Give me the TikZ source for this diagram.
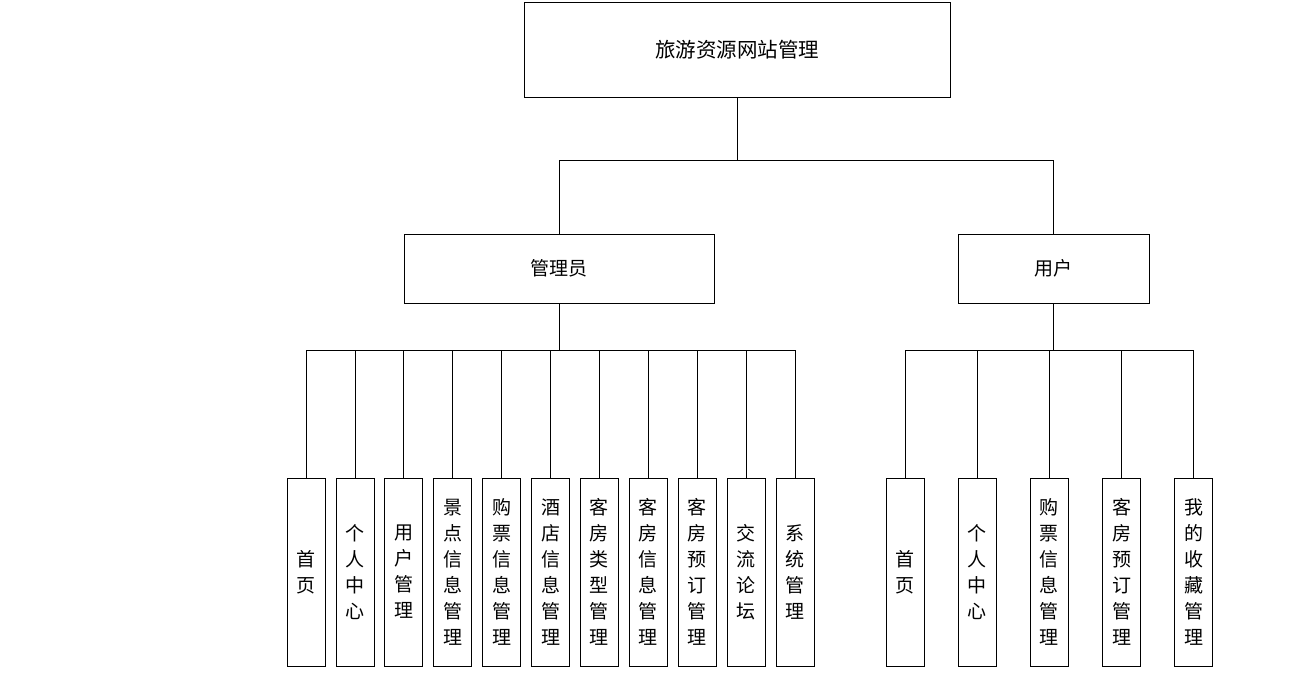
\documentclass[tikz,border=0pt]{standalone}
\usepackage{fontspec}
\setmainfont{Noto Sans CJK SC}
\usetikzlibrary{positioning}

\begin{document}
\begin{tikzpicture}[
    x=1pt, y=-1pt,
    box/.style={rectangle, draw, line width=0.8pt, inner sep=0pt,
                font=\fontsize{19}{26}\selectfont, align=center},
    leaf/.style={box, minimum width=38pt, minimum height=188pt},
    conn/.style={line width=0.8pt}
]
    \useasboundingbox (0,0) rectangle (1302,693);

    \node[box, minimum width=426pt, minimum height=95pt,
          font=\fontsize{20.5}{26}\selectfont] (root) at (737,49.5) {旅游资源网站管理};
    \node[box, minimum width=310pt, minimum height=69pt] (admin) at (559,268.5)  {管理员};
    \node[box, minimum width=191pt, minimum height=69pt] (user)  at (1053.5,268.5) {用户};

    % admin functions
    \foreach \txt [count=\i] in {{首\\页},{个\\人\\中\\心},{用\\户\\管\\理},
        {景\\点\\信\\息\\管\\理},{购\\票\\信\\息\\管\\理},{酒\\店\\信\\息\\管\\理},
        {客\\房\\类\\型\\管\\理},{客\\房\\信\\息\\管\\理},{客\\房\\预\\订\\管\\理},
        {交\\流\\论\\坛},{系\\统\\管\\理}}
        \node[leaf] (a\i) at ({306+48.9*(\i-1)},572) {\txt};

    % user functions
    \foreach \txt [count=\i] in {{首\\页},{个\\人\\中\\心},{购\\票\\信\\息\\管\\理},
        {客\\房\\预\\订\\管\\理},{我\\的\\收\\藏\\管\\理}}
        \node[leaf] (u\i) at ({905+72.2*(\i-1)},572) {\txt};

    % connectors
    \coordinate (bus)  at (737,160);
    \coordinate (abus) at (559,350);
    \coordinate (ubus) at (1053.5,350);

    \draw[conn] (root.south) -- (bus) -| (admin.north);
    \draw[conn] (bus) -| (user.north);

    \draw[conn] (admin.south) -- (abus);
    \foreach \i in {1,...,11}
        \draw[conn] (abus) -| (a\i.north);

    \draw[conn] (user.south) -- (ubus);
    \foreach \i in {1,...,5}
        \draw[conn] (ubus) -| (u\i.north);
\end{tikzpicture}
\end{document}
